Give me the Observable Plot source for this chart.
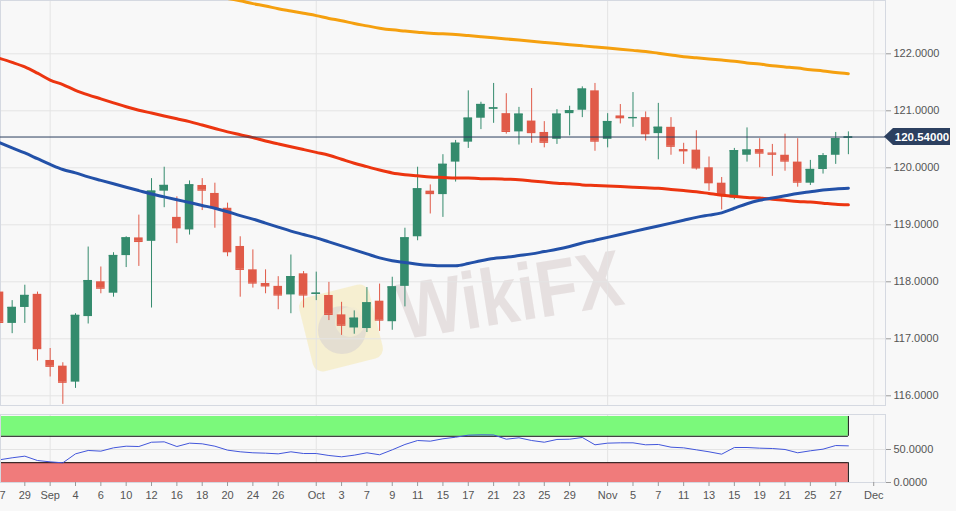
<!DOCTYPE html>
<html><head><meta charset="utf-8">
<script src="https://cdn.jsdelivr.net/npm/d3@7"></script>
<script src="https://cdn.jsdelivr.net/npm/@observablehq/plot@0.6"></script>
<style>
html,body{margin:0;padding:0;background:#f8f8f8;}
#chart{width:956px;height:511px;overflow:hidden;position:relative;background:#f8f8f8;}
svg{display:block;}
</style></head><body><div id="chart"></div>
<script>
// Trading days (EUR/JPY daily, 27 Aug – 28 Nov 2019), index 0..67
const days = ["08-27","08-28","08-29","08-30","09-02","09-03","09-04","09-05","09-06","09-09","09-10","09-11","09-12","09-13","09-16","09-17","09-18","09-19","09-20","09-23","09-24","09-25","09-26","09-27","09-30","10-01","10-02","10-03","10-04","10-07","10-08","10-09","10-10","10-11","10-14","10-15","10-16","10-17","10-18","10-21","10-22","10-23","10-24","10-25","10-28","10-29","10-30","10-31","11-01","11-04","11-05","11-06","11-07","11-08","11-11","11-12","11-13","11-14","11-15","11-18","11-19","11-20","11-21","11-22","11-25","11-26","11-27","11-28"];
const open  = [117.82,117.27,117.55,117.78,116.62,116.52,116.24,117.39,118.00,117.80,118.46,118.77,118.71,119.59,119.13,118.91,119.69,119.55,119.29,118.62,118.21,117.97,117.92,117.77,118.14,117.78,117.76,117.42,117.19,117.18,117.66,117.30,117.92,118.79,119.59,119.53,120.10,120.45,120.87,121.03,120.95,120.63,120.82,120.62,120.50,120.95,121.01,121.35,120.50,120.91,120.87,120.88,120.60,120.71,120.32,120.31,120.00,119.73,119.47,120.22,120.32,120.26,120.22,120.10,119.73,119.97,120.22,120.52];
const high  = [117.90,117.67,117.94,117.82,116.83,116.58,117.44,118.61,118.26,118.51,118.79,119.17,119.81,120.01,119.49,119.77,119.81,119.73,119.38,118.79,118.56,118.21,118.09,118.47,118.18,118.17,117.99,117.64,117.49,117.90,117.96,118.08,118.94,120.01,119.70,120.23,120.48,121.35,121.15,121.48,121.30,121.06,121.39,120.81,121.02,121.08,121.42,121.48,120.95,121.11,121.32,120.98,121.13,120.88,120.43,120.65,120.19,119.83,120.34,120.70,120.51,120.41,120.59,120.51,120.13,120.25,120.62,120.63];
const low   = [117.22,117.09,117.27,116.61,116.33,115.85,116.13,117.26,117.79,117.73,118.25,118.27,117.54,119.30,118.67,118.82,119.25,118.94,118.44,117.73,117.89,117.79,117.51,117.44,117.54,117.67,117.32,117.06,117.08,117.11,117.13,117.15,117.56,118.72,119.19,119.13,119.75,120.34,120.67,120.78,120.59,120.40,120.43,120.35,120.41,120.56,120.88,120.29,120.35,120.77,120.71,120.47,120.14,120.22,120.06,119.96,119.59,119.26,119.44,120.10,120.00,119.85,119.94,119.66,119.69,119.89,120.06,120.23];
const close = [117.29,117.55,117.76,116.83,116.52,116.24,117.41,118.02,117.89,118.46,118.77,118.71,119.59,119.69,118.95,119.70,119.61,119.30,118.53,118.22,117.98,117.93,117.77,118.09,117.77,117.80,117.43,117.24,117.36,117.63,117.33,117.91,118.77,119.63,119.55,120.06,120.43,120.87,121.11,121.05,120.64,120.94,120.62,120.45,120.94,121.00,121.38,120.47,120.81,120.88,120.88,120.60,120.71,120.38,120.30,120.00,119.74,119.53,120.30,120.31,120.26,120.24,120.12,119.75,119.97,120.21,120.51,120.54];
const ma50  = [120.44,120.35,120.26,120.16,120.06,119.97,119.91,119.84,119.78,119.72,119.66,119.60,119.54,119.49,119.44,119.39,119.34,119.29,119.23,119.16,119.10,119.03,118.96,118.89,118.83,118.77,118.70,118.63,118.56,118.49,118.42,118.37,118.34,118.31,118.29,118.28,118.28,118.32,118.37,118.41,118.43,118.46,118.49,118.53,118.57,118.62,118.68,118.73,118.78,118.83,118.88,118.93,118.98,119.03,119.08,119.13,119.17,119.21,119.29,119.37,119.43,119.47,119.51,119.55,119.58,119.61,119.63,119.64];
const ma100 = [121.92,121.85,121.77,121.66,121.54,121.46,121.36,121.28,121.21,121.14,121.07,121.01,120.96,120.91,120.86,120.81,120.75,120.69,120.63,120.58,120.53,120.47,120.42,120.37,120.32,120.27,120.22,120.15,120.08,120.02,119.96,119.91,119.88,119.86,119.84,119.83,119.82,119.82,119.81,119.81,119.80,119.79,119.77,119.75,119.73,119.72,119.70,119.69,119.68,119.67,119.66,119.65,119.64,119.62,119.60,119.58,119.55,119.52,119.50,119.48,119.47,119.45,119.43,119.41,119.40,119.38,119.36,119.35];
const ma200 = [123.75,123.71,123.66,123.62,123.57,123.53,123.48,123.44,123.39,123.35,123.30,123.26,123.21,123.17,123.12,123.08,123.03,123.00,122.97,122.93,122.88,122.84,122.79,122.75,122.71,122.67,122.62,122.58,122.53,122.49,122.45,122.42,122.40,122.38,122.36,122.35,122.34,122.32,122.30,122.28,122.26,122.24,122.22,122.20,122.18,122.16,122.14,122.12,122.10,122.08,122.06,122.04,122.01,121.98,121.95,121.93,121.91,121.89,121.87,121.84,121.82,121.79,121.77,121.75,121.72,121.70,121.67,121.65];
const rsi   = [34.4,37.4,39.9,33.3,31.3,29.8,43.4,48.5,47.5,52.5,55.0,54.5,61.0,61.6,54.5,59.6,58.6,55.0,49.0,46.5,45.0,44.4,43.4,46.5,43.9,43.9,40.9,38.9,41.4,45.0,42.0,49.5,57.6,63.6,62.6,66.2,68.6,71.7,72.2,72.0,65.6,67.7,63.6,61.0,65.2,65.6,68.2,57.1,59.6,60.1,60.1,57.1,57.6,53.5,52.5,49.5,46.5,42.9,53.0,53.0,52.0,51.5,50.0,45.0,48.0,50.5,56.0,55.5];

// Axis ticks
const tickIdx    = [0,2,4,6,8,10,12,14,16,18,20,22,25,27,29,31,33,35,37,39,41,43,45,48,50,52,54,56,58,60,62,64,66,69];
const tickLabels = ["27","29","Sep","4","6","10","12","16","18","20","24","26","Oct","3","7","9","11","15","17","21","23","25","29","Nov","5","7","11","13","15","19","21","25","27","Dec"];
const monthIdx   = [4,25,48,69];
const priceTicks = [116,117,118,119,120,121,122];
const rsiTicks   = [0,50];
const rsiBands   = [{lo:70, hi:100, fill:"#7bf97b"}, {lo:0, hi:30, fill:"#f07b7b"}];
const rsiLevels  = [70,30];

const UP = "#348b6d", DOWN = "#e05a48";
const GRID = "#e4e4e4";
const FONT = "Liberation Sans, Arial, sans-serif";
const XD = [0.08, 69.93];
const last = close.length - 1;
const lastClose = close[last];

const candles = open.map((o,i)=>({i, o, h:high[i], l:low[i], c:close[i], col: close[i] >= o ? UP : DOWN}));
const series = (arr)=>arr.map((v,i)=>({i, v}));
const labelOf = new Map(tickIdx.map((d,k)=>[d, tickLabels[k]]));
const hw = 0.34;

const main = Plot.plot({
  width: 956, height: 410,
  marginLeft: 0, marginRight: 71, marginTop: 0, marginBottom: 5,
  style: {background: "#f8f8f8", fontFamily: FONT, fontSize: "11px", overflow: "hidden"},
  x: {domain: XD, axis: null},
  y: {domain: [115.83, 122.935], axis: null},
  color: {type: "identity"},
  marks: [
    Plot.gridY(priceTicks, {stroke: GRID, strokeOpacity: 1}),
    Plot.gridX(monthIdx, {stroke: GRID, strokeOpacity: 1}),
    Plot.frame({stroke: "#d5d9e1"}),
    Plot.axisY(priceTicks, {anchor: "right", label: null, tickSize: 5, tickPadding: 3, stroke: "#9a9a9a",
      fill: "#555", fontSize: 11, tickFormat: d => d.toFixed(4)}),
    Plot.ruleX(candles, {x: "i", y1: "l", y2: "h", stroke: "col", strokeWidth: 1}),
    Plot.rect(candles, {x1: d => d.i - hw, x2: d => d.i + hw, y1: "o", y2: "c", fill: "col"}),
    Plot.ruleY(candles, {y: "c", x1: d => d.i - hw, x2: d => d.i + hw, stroke: "col", strokeWidth: 1.4}),
    Plot.line(series(ma200), {x: "i", y: "v", stroke: "#f5a00f", strokeWidth: 3, curve: "monotone-x", clip: true}),
    Plot.line(series(ma100), {x: "i", y: "v", stroke: "#ec3510", strokeWidth: 3, curve: "monotone-x", clip: true}),
    Plot.line(series(ma50),  {x: "i", y: "v", stroke: "#2351a8", strokeWidth: 3, curve: "monotone-x", clip: true}),
    Plot.ruleY([lastClose], {stroke: "#2b3f5e", strokeWidth: 1})
  ]
});

// watermark behind the candles
{
  const svg = d3.select(main);
  const g = svg.insert("g", "g").attr("pointer-events", "none");
  g.append("rect").attr("x", 305).attr("y", 290).attr("width", 72).attr("height", 76).attr("rx", 10)
    .attr("fill", "#f5ecc4").attr("opacity", 0.75).attr("transform", "rotate(-14 341 328)");
  g.append("circle").attr("cx", 342).attr("cy", 330).attr("r", 24).attr("fill", "#d8d2d0").attr("opacity", 0.6);
  g.append("circle").attr("cx", 350).attr("cy", 322).attr("r", 15).attr("fill", "#f3ecd2").attr("opacity", 0.8);
  g.append("text").attr("x", 511).attr("y", 322).attr("text-anchor", "middle")
    .attr("font-family", FONT).attr("font-weight", "bold").attr("font-size", 80)
    .attr("textLength", 226).attr("lengthAdjust", "spacingAndGlyphs")
    .attr("fill", "#d9cece").attr("opacity", 0.55).attr("transform", "rotate(-9 511 300)").text("WikiFX");

  // last price label on the right axis
  const yy = main.scale("y").apply(lastClose);
  const xr = main.scale("x").apply(XD[1]);
  const lab = svg.append("g");
  lab.append("path")
    .attr("d", `M${xr-1},${yy} L${xr+8},${yy-8.5} L${xr+65},${yy-8.5} L${xr+65},${yy+8.5} L${xr+8},${yy+8.5} Z`)
    .attr("fill", "#2c4060");
  lab.append("text").attr("x", xr + 37).attr("y", yy).attr("dy", "0.36em").attr("text-anchor", "middle")
    .attr("font-family", FONT).attr("font-weight", "bold").attr("font-size", 11.5).attr("fill", "#fff")
    .text(lastClose.toFixed(5));
}

const ind = Plot.plot({
  width: 956, height: 101,
  marginLeft: 0, marginRight: 71, marginTop: 4, marginBottom: 29,
  style: {background: "#f8f8f8", fontFamily: FONT, fontSize: "11px", overflow: "hidden"},
  x: {domain: XD, axis: null},
  y: {domain: [0, 103], axis: null},
  marks: [
    Plot.gridX(monthIdx, {stroke: GRID, strokeOpacity: 1}),
    Plot.gridY([50], {stroke: GRID, strokeOpacity: 1}),
    Plot.rect(rsiBands, {x1: XD[0], x2: last, y1: "lo", y2: "hi", fill: d => d.fill}),
    Plot.ruleY(rsiLevels, {x1: XD[0], x2: last, stroke: "#111", strokeWidth: 1}),
    Plot.ruleX(rsiBands, {x: last, y1: "lo", y2: "hi", stroke: "#111", strokeWidth: 1}),
    Plot.line(series(rsi), {x: "i", y: "v", stroke: "#4256db", strokeWidth: 1}),
    Plot.frame({stroke: "#d5d9e1"}),
    Plot.axisY(rsiTicks, {anchor: "right", label: null, tickSize: 5, tickPadding: 3, stroke: "#9a9a9a",
      fill: "#555", fontSize: 11, tickFormat: d => d.toFixed(4)}),
    Plot.axisX(tickIdx, {anchor: "bottom", label: null, tickSize: 4, tickPadding: 5, stroke: "#9a9a9a",
      fill: "#555", fontSize: 11, tickFormat: d => labelOf.get(d)})
  ]
});

const root = document.getElementById("chart");
root.append(main);
root.append(ind);
</script>
</body></html>
